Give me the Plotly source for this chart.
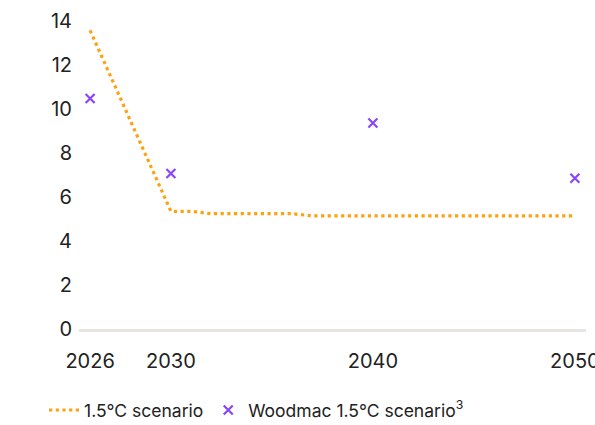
import plotly.graph_objects as go

# 1.5°C scenario pathway (breakpoints)
scenario_years = [2026, 2030, 2031, 2032, 2036, 2037, 2050]
scenario_values = [13.57, 5.35, 5.35, 5.24, 5.24, 5.14, 5.14]

# Woodmac 1.5°C scenario points
woodmac_years = [2026, 2030, 2040, 2050]
woodmac_values = [10.48, 7.07, 9.36, 6.85]

x_ticks = [2026, 2030, 2040, 2050]
y_ticks = [0, 2, 4, 6, 8, 10, 12, 14]

ORANGE = "#FFA00F"
PURPLE = "#8C45F5"
TEXT = "#222222"
FONT = "Inter"

fig = go.Figure()

fig.add_trace(go.Scatter(
    x=scenario_years, y=scenario_values,
    mode="lines",
    name="1.5°C scenario",
    line=dict(color=ORANGE, width=3.2, dash="3.2px,3.5px"),
    cliponaxis=False,
))

fig.add_trace(go.Scatter(
    x=woodmac_years, y=woodmac_values,
    mode="markers",
    name="Woodmac 1.5°C scenario<sup>3</sup>",
    marker=dict(symbol="x-thin", size=9, color=PURPLE,
                line=dict(color=PURPLE, width=2.2)),
    cliponaxis=False,
))

fig.update_layout(
    width=595, height=425,
    margin=dict(l=79, r=9, t=21, b=96, autoexpand=False),
    paper_bgcolor="white",
    plot_bgcolor="white",
    font=dict(family=FONT, color=TEXT, size=20),
    showlegend=True,
    legend=dict(
        orientation="h",
        xref="container", yref="container",
        x=0.074, y=0.035, xanchor="left", yanchor="middle",
        font=dict(family=FONT, size=17.5, color=TEXT),
        itemwidth=30,
        bgcolor="rgba(0,0,0,0)",
    ),
    xaxis=dict(
        range=[2025.45, 2050.55],
        tickvals=x_ticks,
        ticktext=[str(v) for v in x_ticks],
        showgrid=False,
        zeroline=False,
        showline=True,
        linecolor="#E8E5E1",
        linewidth=3,
        ticks="",
        ticklabelstandoff=12,
        ticklabeloverflow="allow",
        automargin=False,
        tickfont=dict(family=FONT, size=20, color=TEXT),
    ),
    yaxis=dict(
        range=[0, 14],
        tickvals=y_ticks,
        showgrid=False,
        zeroline=False,
        showline=False,
        ticks="",
        ticklabelstandoff=6,
        automargin=False,
        tickfont=dict(family=FONT, size=20, color=TEXT),
    ),
)

fig.write_html("out.html")
